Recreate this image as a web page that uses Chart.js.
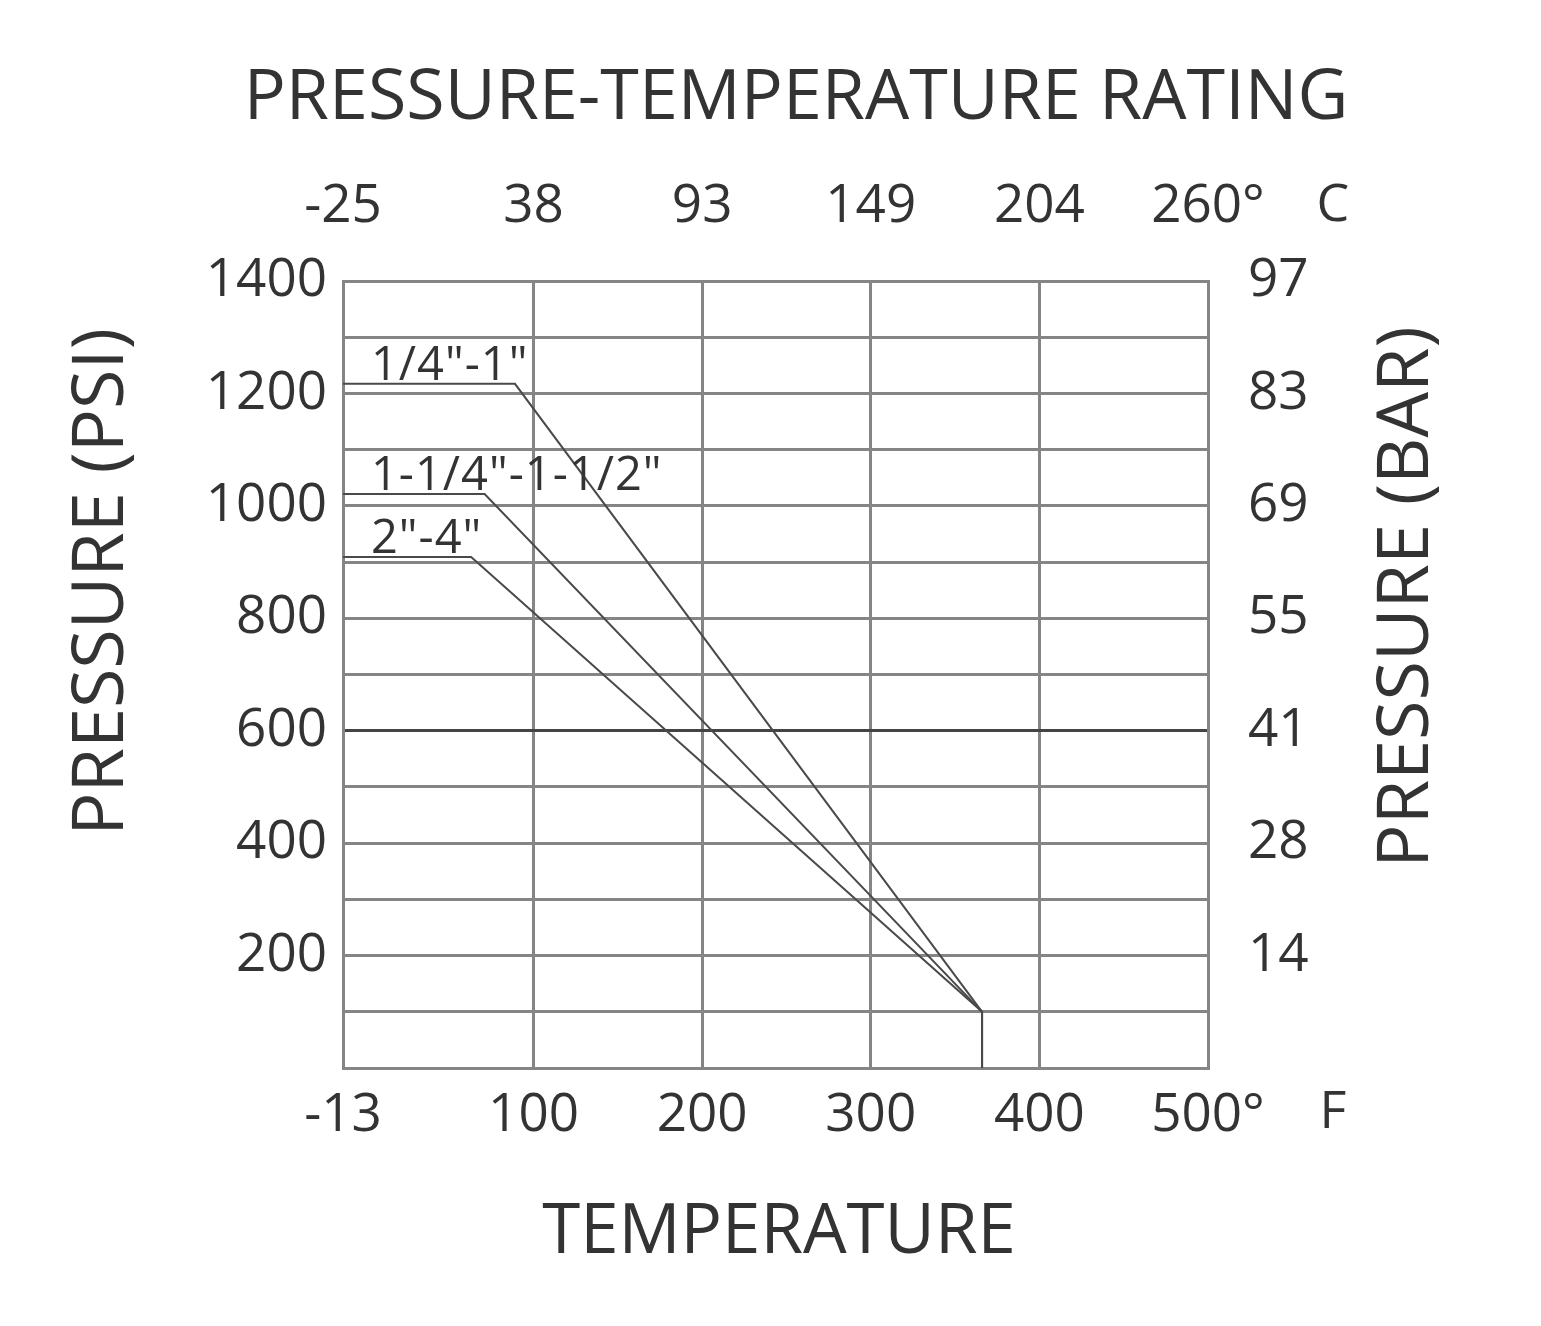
<!DOCTYPE html>
<html>
<head>
<meta charset="utf-8">
<script src="https://cdn.jsdelivr.net/npm/chart.js@4.4.0/dist/chart.umd.min.js"></script>
<style>
  html, body { margin: 0; padding: 0; background: #fff; }
</style>
</head>
<body>
<canvas id="ratingChart" width="1541" height="1326"></canvas>
<script>
// axis ticks
const tempTicksF = [-13, 100, 200, 300, 400, 500];
const tempTicksC = [-25, 38, 93, 149, 204, 260];
const psiTicks = [200, 400, 600, 800, 1000, 1200, 1400];
const barTicks = [14, 28, 41, 55, 69, 83, 97];

// series (deg F / psi)
const seriesNames = ['1/4"-1"', '1-1/4"-1-1/2"', '2"-4"'];
const tempSmall = [-13, 89, 366, 366];
const psiSmall = [1217, 1217, 100, 0];
const tempMid = [-13, 71, 366, 366];
const psiMid = [1021, 1021, 100, 0];
const tempLarge = [-13, 63, 366, 366];
const psiLarge = [909, 909, 100, 0];

const FONT = '"Open Sans", "Noto Sans", sans-serif';
const W = '400';
const TEXT = '#333';
const GRID = '#858585';

function toPoints(xs, ys) {
  return xs.map((x, i) => ({ x: x, y: ys[i] }));
}

const lineStyle = { borderColor: '#4a4a4a', borderWidth: 2, pointRadius: 0, tension: 0, fill: false };

// title, axis titles, unit letters, series labels
const textPlugin = {
  id: 'textPlugin',
  afterDraw(chart) {
    const ctx = chart.ctx;
    const ys = chart.scales.y;
    ctx.save();
    ctx.fillStyle = TEXT;
    ctx.textAlign = 'center';
    ctx.textBaseline = 'middle';

    ctx.font = W + ' 70px ' + FONT;
    ctx.fillText('PRESSURE-TEMPERATURE RATING', 796, 99);

    ctx.font = W + ' 72px ' + FONT;
    ctx.save();
    ctx.translate(102, 582);
    ctx.rotate(-Math.PI / 2);
    ctx.fillText('PRESSURE (PSI)', 0, 0);
    ctx.restore();
    ctx.save();
    ctx.translate(1407, 597);
    ctx.rotate(-Math.PI / 2);
    ctx.fillText('PRESSURE (BAR)', 0, 0);
    ctx.restore();

    ctx.font = W + ' 69px ' + FONT;
    ctx.fillText('TEMPERATURE', 779, 1233);

    ctx.font = W + ' 52px ' + FONT;
    ctx.fillText('F', 1333, 1113);
    ctx.fillText('C', 1333, 206);

    ctx.font = W + ' 47px ' + FONT;
    ctx.letterSpacing = '1px';
    ctx.textAlign = 'left';
    ctx.textBaseline = 'alphabetic';
    const starts = [psiSmall[0], psiMid[0], psiLarge[0]];
    seriesNames.forEach((name, i) => {
      ctx.fillText(name, chart.chartArea.left + 28, ys.getPixelForValue(starts[i]) - 4);
    });
    ctx.restore();
  }
};

const tickFont = { family: FONT, size: 53, weight: W };

new Chart(document.getElementById('ratingChart'), {
  type: 'line',
  data: {
    datasets: [
      Object.assign({ label: seriesNames[0], data: toPoints(tempSmall, psiSmall) }, lineStyle),
      Object.assign({ label: seriesNames[1], data: toPoints(tempMid, psiMid) }, lineStyle),
      Object.assign({ label: seriesNames[2], data: toPoints(tempLarge, psiLarge) }, lineStyle)
    ]
  },
  options: {
    responsive: false,
    animation: false,
    devicePixelRatio: 1,
    layout: { padding: 0 },
    plugins: {
      legend: { display: false },
      tooltip: { enabled: false },
      title: { display: false }
    },
    scales: {
      x: {
        type: 'linear',
        position: 'bottom',
        min: -13,
        max: 500,
        afterBuildTicks: s => { s.ticks = tempTicksF.map(v => ({ value: v })); },
        afterFit: s => { s.height = 258; },
        ticks: {
          color: TEXT,
          font: tickFont,
          padding: 16,
          maxRotation: 0,
          autoSkip: false,
          callback: (v, i) => tempTicksF[i] + (i === tempTicksF.length - 1 ? '°' : '')
        },
        grid: { color: GRID, lineWidth: 3, drawTicks: false },
        border: { color: GRID, width: 3 }
      },
      x2: {
        type: 'linear',
        position: 'top',
        min: -13,
        max: 500,
        afterBuildTicks: s => { s.ticks = tempTicksF.map(v => ({ value: v })); },
        afterFit: s => { s.height = 281; },
        ticks: {
          color: TEXT,
          font: tickFont,
          padding: 42,
          maxRotation: 0,
          autoSkip: false,
          callback: (v, i) => tempTicksC[i] + (i === tempTicksC.length - 1 ? '°' : '')
        },
        grid: { display: false, drawTicks: false },
        border: { color: GRID, width: 3 }
      },
      y: {
        type: 'linear',
        position: 'left',
        min: 0,
        max: 1400,
        afterFit: s => { s.width = 343; },
        ticks: {
          stepSize: 100,
          autoSkip: false,
          color: TEXT,
          font: tickFont,
          padding: 16,
          callback: v => psiTicks.includes(v) ? v : ''
        },
        grid: {
          color: c => (c.tick && c.tick.value === 600 ? '#444' : GRID),
          lineWidth: 3,
          drawTicks: false
        },
        border: { color: GRID, width: 3 }
      },
      y2: {
        type: 'linear',
        position: 'right',
        min: 0,
        max: 1400,
        afterFit: s => { s.width = 333; },
        ticks: {
          stepSize: 100,
          autoSkip: false,
          color: TEXT,
          font: tickFont,
          padding: 40,
          callback: v => {
            const i = psiTicks.indexOf(v);
            return i >= 0 ? barTicks[i] : '';
          }
        },
        grid: { drawOnChartArea: false, drawTicks: false },
        border: { color: GRID, width: 3 }
      }
    }
  },
  plugins: [textPlugin]
});
</script>
</body>
</html>
